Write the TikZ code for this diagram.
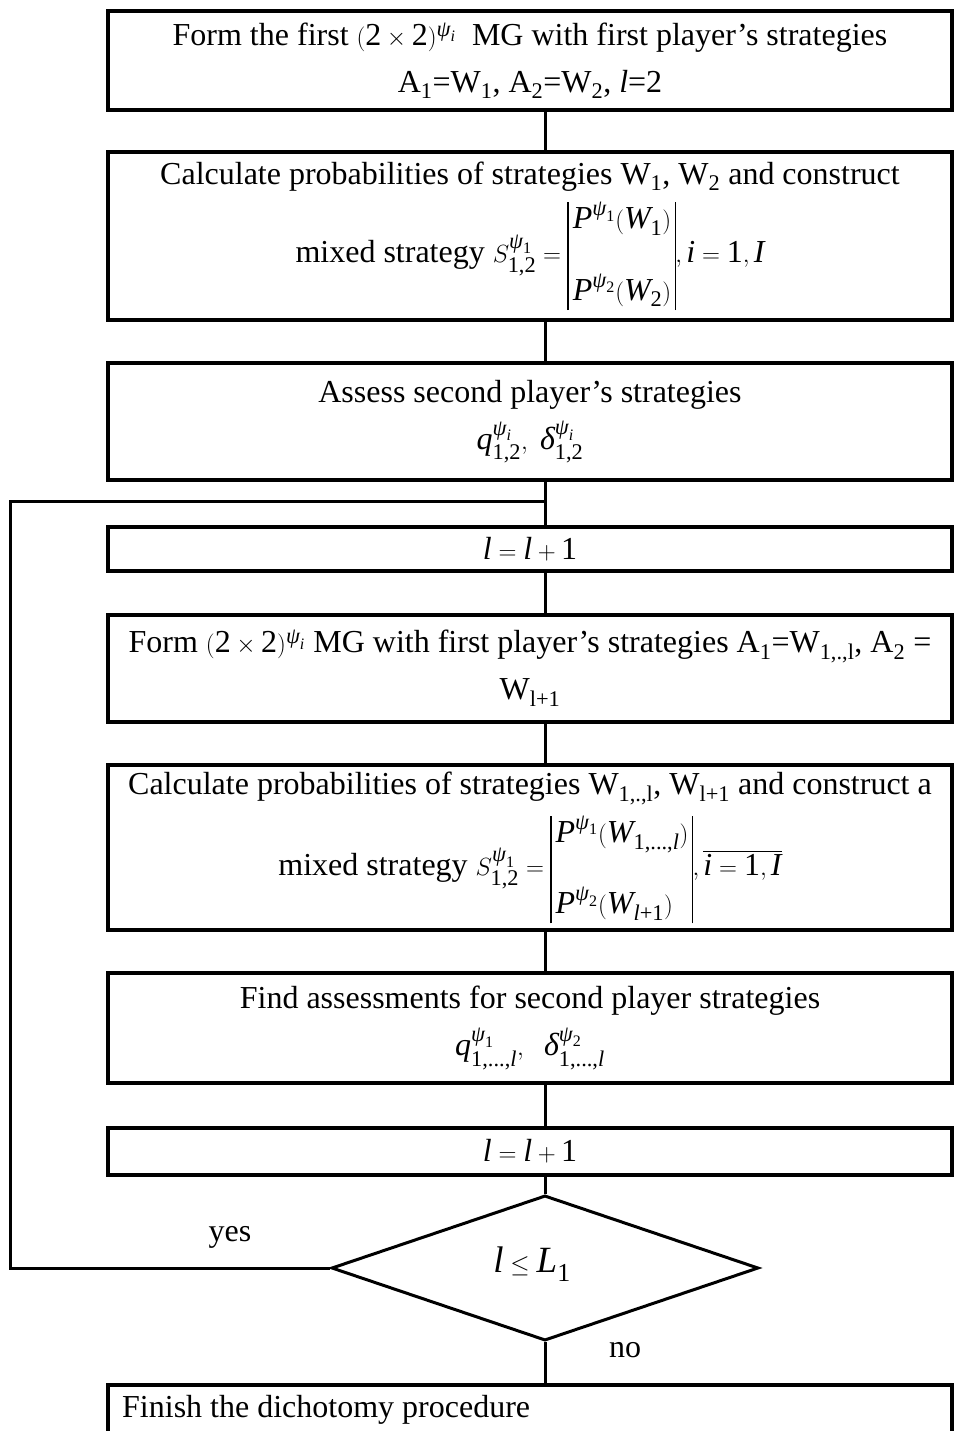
\documentclass[tikz,border=0pt]{standalone}
\usepackage{amsmath}
\usepackage{fontspec}
\setmainfont{Liberation Serif}
\usetikzlibrary{shapes.geometric}
\newcommand\ti[1]{\text{\itshape #1}}
\newcommand\tu[1]{\text{\upshape #1}}
\newcommand\barmat[2]{{\renewcommand\arraystretch{0.7}\setlength\arrayrulewidth{1.3pt}%
  \begin{array}{|@{\,}l@{\,}|}#1\\[35pt]#2\end{array}}}
\begin{document}
\begin{tikzpicture}[x=1pt,y=-1pt,
  box/.style={draw, line width=4pt, rectangle, minimum width=844pt, anchor=center,
    align=center, inner sep=0pt, font=\fontsize{32}{47}\selectfont},
  conn/.style={line width=3pt},
  lbl/.style={font=\fontsize{32}{38}\selectfont, inner sep=0pt}]
\useasboundingbox (0,0) rectangle (955,1431);
\clip (0,0) rectangle (955,1431);
\coordinate (axis) at (545,0);

\node[box, minimum height=99pt] (b1) at (530,60.5)
  {Form the first $(\tu{2}\times\tu{2})^{\ti{ψ}_{\ti{i}}}$\ \ MG with first player’s strategies\\
   A\textsubscript{1}=W\textsubscript{1}, A\textsubscript{2}=W\textsubscript{2}, \textit{l}=2};

\node[box, minimum height=168pt] (b2) at (530,236)
  {Calculate probabilities of strategies W\textsubscript{1}, W\textsubscript{2} and construct\\[10pt]
   mixed strategy $S^{\ti{ψ}_{\tu{1}}}_{\tu{1,2}}=\barmat{\ti{P}^{\ti{ψ}_{\tu{1}}}(\ti{W}_{\tu{1}})}{\ti{P}^{\ti{ψ}_{\tu{2}}}(\ti{W}_{\tu{2}})},\ti{i}=\tu{1},\ti{I}$};

\node[box, minimum height=117pt] (b3) at (530,421.5)
  {Assess second player’s strategies\\
   $\ti{q}^{\ti{ψ}_{\ti{i}}}_{\tu{1,2}},\ \ti{δ}^{\ti{ψ}_{\ti{i}}}_{\tu{1,2}}$};

\node[box, minimum height=44pt] (b4) at (530,549)
  {$\ti{l}=\ti{l}+\tu{1}$};

\node[box, minimum height=107pt] (b5) at (530,668.5)
  {Form $(\tu{2}\times\tu{2})^{\ti{ψ}_{\ti{i}}}$ MG with first player’s strategies A\textsubscript{1}=W\textsubscript{1,.,l}, A\textsubscript{2} =\\
   W\textsubscript{l+1}};

\node[box, minimum height=165pt] (b6) at (530,847.5)
  {Calculate probabilities of strategies W\textsubscript{1,.,l}, W\textsubscript{l+1} and construct a\\[10pt]
   mixed strategy $S^{\ti{ψ}_{\tu{1}}}_{\tu{1,2}}=\barmat{\ti{P}^{\ti{ψ}_{\tu{1}}}(\ti{W}_{\tu{1,...,}\ti{l}})}{\ti{P}^{\ti{ψ}_{\tu{2}}}(\ti{W}_{\ti{l}\tu{+1}})},\overline{\ti{i}=\tu{1},\ti{I}}$};

\node[box, minimum height=110pt] (b7) at (530,1028)
  {Find assessments for second player strategies\\
   $\ti{q}^{\ti{ψ}_{\tu{1}}}_{\tu{1,...,}\ti{l}},\ \ \ti{δ}^{\ti{ψ}_{\tu{2}}}_{\tu{1,...,}\ti{l}}$};

\node[box, minimum height=47pt] (b8) at (530,1151.5)
  {$\ti{l}=\ti{l}+\tu{1}$};

\node[draw, diamond, line width=3pt, minimum width=427pt, minimum height=143pt, inner sep=0pt,
  font=\fontsize{37}{44}\selectfont] (dia) at (545,1268)
  {\raisebox{16pt}{$\ti{l}\le\ti{L}_{\tu{1}}$}\hspace*{26pt}};

\node[box, minimum height=90pt] (b9) at (530,1430) {};
\node[lbl, anchor=west] (fin) at (122,1410) {Finish the dichotomy procedure};

\node[lbl] (yes) at (230,1237) {yes};
\node[lbl] (no) at (625,1350) {no};

\draw[conn] (b1.south -| axis) -- (b2.north -| axis);
\draw[conn] (b2.south -| axis) -- (b3.north -| axis);
\draw[conn] (b3.south -| axis) -- (b4.north -| axis);
\draw[conn] (b4.south -| axis) -- (b5.north -| axis);
\draw[conn] (b5.south -| axis) -- (b6.north -| axis);
\draw[conn] (b6.south -| axis) -- (b7.north -| axis);
\draw[conn] (b7.south -| axis) -- (b8.north -| axis);
\draw[conn] (b8.south -| axis) -- (dia.north);
\draw[conn] (dia.south) -- (b9.north -| axis);

\coordinate (jn) at (545,501);
\coordinate (lp) at (10,501);
\draw[conn] (jn) -- (lp) |- (dia.west);
\end{tikzpicture}
\end{document}
